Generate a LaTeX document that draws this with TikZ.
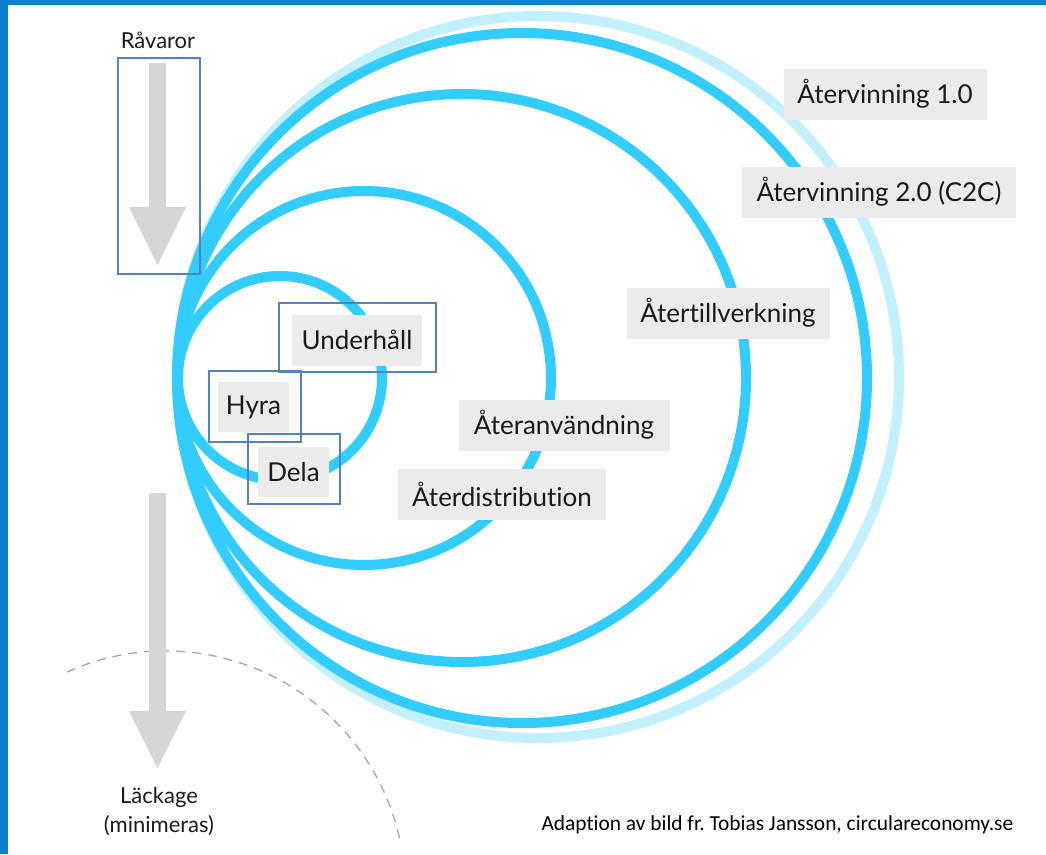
\documentclass[tikz,border=0pt]{standalone}
\usepackage{fontspec}
\setmainfont{Lato}[Ligatures=NoCommon]
\newfontfamily\notefont{Carlito}[Ligatures=NoCommon]
\frenchspacing
\definecolor{cyan1}{HTML}{33CCFF}
\definecolor{cyan2}{HTML}{C2F0FF}
\definecolor{edge1}{HTML}{0E80D2}
\definecolor{frame1}{HTML}{5382C2}
\definecolor{gray1}{HTML}{EBEBEB}
\definecolor{gray2}{HTML}{D6D6D6}
\definecolor{gray3}{HTML}{A6A6A6}
\definecolor{ink}{HTML}{1A1A1A}

\begin{document}
\begin{tikzpicture}[x=1pt, y=-1pt,
  loop/.style={draw=cyan1, line width=10pt},
  tag/.style={fill=gray1, text=ink, minimum height=51pt, inner sep=0pt, font=\fontsize{26}{30}\selectfont},
  bluebox/.style={draw=frame1, line width=1.3pt, inner sep=0pt},
  note/.style={text=ink, font=\fontsize{22}{29}\selectfont}]
\useasboundingbox (0,0) rectangle (1046,854);
\fill[white] (0,0) rectangle (1046,854);
\fill[edge1] (0,0) rectangle (8,854);
\fill[edge1] (0,0) rectangle (1046,5);

% loops, all touching at the left
\draw[loop, draw=cyan2] (538,377) circle[radius=361];
\foreach \cx/\r in {522/345, 462/284, 364/187, 280/102}
  \draw[loop] (\cx,378) circle[radius=\r];

% leakage boundary
\draw[gray3, dashed, line width=1.3pt, dash pattern=on 9pt off 7pt] (67,672) arc[start angle=-114.2, end angle=-11.3, radius=240];

% raw material and leakage arrows
\fill[gray2] (149,63) -- (166,63) -- (166,207) -- (186,207) -- (157.5,265) -- (129,207) -- (149,207) -- cycle;
\fill[gray2] (149,493) -- (166,493) -- (166,711) -- (186,711) -- (157.5,768) -- (129,711) -- (149,711) -- cycle;
\node[bluebox, minimum width=82pt, minimum height=216pt] (rawbox) at (159,166) {};
\node[note] (raw) at (158,40) {Råvaror};
\node[note, align=center] (leak) at (159,811) {Läckage\\(minimeras)};

% labels
\node[tag, minimum width=203pt] (rec1) at (885,94) {Återvinning 1.0};
\node[tag, minimum width=274pt] (rec2) at (879,192) {Återvinning 2.0 (C2C)};
\node[tag, minimum width=203pt] (reman) at (728,313) {Återtillverkning};
\node[tag, minimum width=211pt] (reuse) at (564,425) {Återanvändning};
\node[tag, minimum width=208pt] (redist) at (502,494) {Återdistribution};
\node[tag, minimum width=130pt] (maint) at (357,340) {Underhåll};
\node[tag, minimum width=71pt, minimum height=50pt] (rent) at (253.5,407) {Hyra};
\node[tag, minimum width=71pt, minimum height=50pt] (share) at (293.5,472) {Dela};
\node[bluebox, minimum width=157pt, minimum height=69pt] (maintbox) at (357.5,337.5) {};
\node[bluebox, minimum width=92pt, minimum height=71pt] (rentbox) at (255,406.5) {};
\node[bluebox, minimum width=92pt, minimum height=70pt] (sharebox) at (294,469) {};

\node[anchor=base west, text=black, font=\notefont\fontsize{21.4}{24}\selectfont] (credit) at (538,830) {Adaption av bild fr. Tobias Jansson, circulareconomy.se};
\end{tikzpicture}
\end{document}
